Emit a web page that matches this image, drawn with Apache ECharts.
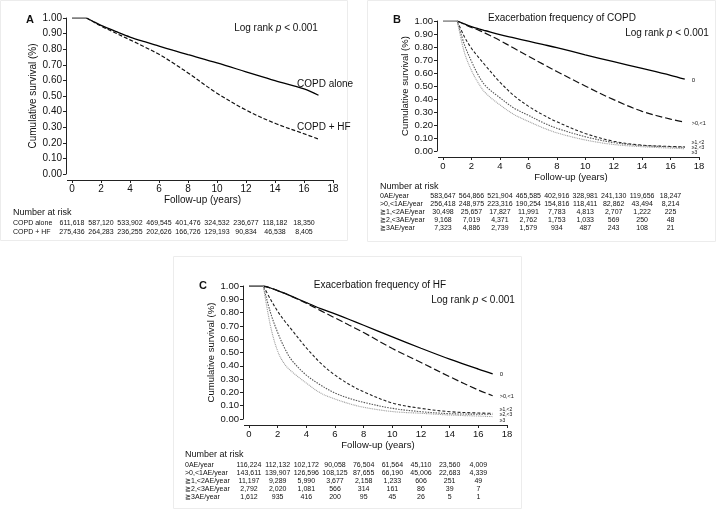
<!DOCTYPE html>
<html><head><meta charset="utf-8">
<script src="https://cdn.jsdelivr.net/npm/echarts@6/dist/echarts.min.js"></script>
<style>html,body{margin:0;padding:0;background:#fff}#c{width:726px;height:523px}</style>
</head><body><div id="c"></div>
<script>
// ---------- data ----------
// survival is 1.00 from 0 to 1 year, then each curve is read at these times
const flatTimes = [0, 1];
const flatVals = [1, 1];
const times = [1, 1.5, 2, 2.5, 3, 4, 5, 6, 7, 8, 10, 12, 14, 16, 17];
const xTicks = [0, 2, 4, 6, 8, 10, 12, 14, 16];

// Panel A
const aNames = ['COPD alone', 'COPD + HF'];
const aAlone = [1, 0.976, 0.953, 0.933, 0.914, 0.878, 0.848, 0.82, 0.792, 0.765, 0.712, 0.655, 0.598, 0.545, 0.505];
const aHF    = [1, 0.974, 0.948, 0.926, 0.904, 0.86, 0.815, 0.767, 0.71, 0.648, 0.518, 0.41, 0.325, 0.258, 0.224];
const aRiskAlone = ['611,618','587,120','533,902','469,545','401,476','324,532','236,677','118,182','18,350'];
const aRiskHF    = ['275,436','264,283','236,255','202,626','166,726','129,193','90,834','46,538','8,405'];

// Panel B
const bLabels = ['0', '>0,<1', '≥1,<2', '≥2,<3', '≥3'];
const b0 = [1, 0.978, 0.957, 0.94, 0.925, 0.895, 0.87, 0.845, 0.82, 0.795, 0.74, 0.687, 0.635, 0.582, 0.552];
const b1 = [1, 0.975, 0.95, 0.93, 0.905, 0.85, 0.79, 0.73, 0.67, 0.612, 0.5, 0.395, 0.305, 0.245, 0.222];
const b2 = [1, 0.88, 0.79, 0.72, 0.655, 0.53, 0.425, 0.345, 0.28, 0.225, 0.135, 0.075, 0.045, 0.035, 0.032];
const b3 = [1, 0.82, 0.69, 0.58, 0.5, 0.41, 0.33, 0.275, 0.22, 0.175, 0.11, 0.065, 0.042, 0.032, 0.028];
const b4 = [1, 0.76, 0.62, 0.52, 0.445, 0.355, 0.28, 0.228, 0.18, 0.14, 0.085, 0.05, 0.033, 0.022, 0.018];
const bRowNames = ['0AE/year', '>0,<1AE/year', '≧1,<2AE/year', '≧2,<3AE/year', '≧3AE/year'];
const bRisk0 = ['583,647','564,866','521,904','465,585','402,916','328,981','241,130','119,656','18,247'];
const bRisk1 = ['256,418','248,975','223,316','190,254','154,816','118,411','82,862','43,494','8,214'];
const bRisk2 = ['30,498','25,657','17,827','11,991','7,783','4,813','2,707','1,222','225'];
const bRisk3 = ['9,168','7,019','4,371','2,762','1,753','1,033','569','250','48'];
const bRisk4 = ['7,323','4,886','2,739','1,579','934','487','243','108','21'];

// Panel C
const c0 = [1, 0.985, 0.965, 0.945, 0.922, 0.875, 0.83, 0.79, 0.748, 0.705, 0.618, 0.532, 0.45, 0.375, 0.34];
const c1 = [1, 0.985, 0.965, 0.945, 0.92, 0.87, 0.815, 0.76, 0.705, 0.65, 0.53, 0.425, 0.318, 0.218, 0.175];
const c2 = [1, 0.9, 0.81, 0.735, 0.668, 0.535, 0.42, 0.33, 0.26, 0.205, 0.12, 0.08, 0.055, 0.045, 0.043];
const c3 = [1, 0.8, 0.65, 0.53, 0.44, 0.33, 0.255, 0.195, 0.155, 0.125, 0.08, 0.055, 0.04, 0.036, 0.035];
const c4 = [1, 0.7, 0.51, 0.41, 0.355, 0.27, 0.195, 0.15, 0.115, 0.088, 0.056, 0.043, 0.03, 0.022, 0.018];
const cRisk0 = ['116,224','112,132','102,172','90,058','76,504','61,564','45,110','23,560','4,009'];
const cRisk1 = ['143,611','139,907','126,596','108,125','87,655','66,190','45,006','22,683','4,339'];
const cRisk2 = ['11,197','9,289','5,990','3,677','2,158','1,233','606','251','49'];
const cRisk3 = ['2,792','2,020','1,081','566','314','161','86','39','7'];
const cRisk4 = ['1,612','935','416','200','95','45','26','5','1'];

// ---------- chart ----------
const FONT = '"Liberation Sans", Arial, Helvetica, sans-serif';
const chart = echarts.init(document.getElementById('c'), null, {renderer: 'canvas'});

const grids = [
  {left: 72, top: 18, width: 261, height: 156},
  {left: 443, top: 21, width: 256, height: 130},
  {left: 249, top: 286, width: 258, height: 133}
];

function xAx(g, fs, gap) {
  return {gridIndex: g, type: 'value', min: 0, max: 18, interval: 2, offset: 6,
    axisLine: {show: true, onZero: false, lineStyle: {color: '#222', width: 1}},
    axisTick: {show: true, length: 3, lineStyle: {color: '#222'}},
    axisLabel: {color: '#111', fontSize: fs, fontFamily: FONT, margin: 4},
    splitLine: {show: false},
    name: 'Follow-up (years)', nameLocation: 'middle', nameGap: gap,
    nameTextStyle: {color: '#111', fontSize: fs, fontFamily: FONT}};
}
function yAx(g, fs, gap) {
  return {gridIndex: g, type: 'value', min: 0, max: 1, interval: 0.1, offset: 6,
    axisLine: {show: true, onZero: false, lineStyle: {color: '#222', width: 1}},
    axisTick: {show: true, length: 3, lineStyle: {color: '#222'}},
    axisLabel: {color: '#111', fontSize: fs, fontFamily: FONT, margin: 4, formatter: v => v.toFixed(2)},
    splitLine: {show: false},
    name: 'Cumulative survival (%)', nameLocation: 'middle', nameGap: gap,
    nameTextStyle: {color: '#111', fontSize: fs, fontFamily: FONT}};
}
function ser(g, tt, vals, color, width, type, smooth) {
  return {type: 'line', xAxisIndex: g, yAxisIndex: g, data: tt.map((t, i) => [t, vals[i]]),
    showSymbol: false, symbol: 'none', smooth: smooth,
    lineStyle: {color: color, width: width, type: type}, silent: true, animation: false};
}

const styles = [
  ['#000', 1.3, 'solid'],
  ['#111', 1.2, [7, 3]],
  ['#222', 1.1, [3, 2]],
  ['#555', 1.1, [1.5, 1.2]],
  ['#a0a0a0', 1.1, [1, 0.8]]
];
const SM = 0.35;

chart.setOption({
  animation: false,
  grid: grids,
  xAxis: [xAx(0, 10, 13), xAx(1, 9.5, 11), xAx(2, 9.5, 12)],
  yAxis: [yAx(0, 10, 27), yAx(1, 9.5, 25), yAx(2, 9.5, 27)],
  series: [
    ser(0, flatTimes, flatVals, '#555', 1.4, 'solid', false),
    ser(0, times, aAlone, '#000', 1.3, 'solid', SM),
    ser(0, times, aHF, '#111', 1.2, [4, 2], SM),
    ser(1, flatTimes, flatVals, '#777', 1.6, 'solid', false),
    ser(1, times, b0, ...styles[0], SM), ser(1, times, b1, ...styles[1], SM), ser(1, times, b2, ...styles[2], SM),
    ser(1, times, b3, ...styles[3], SM), ser(1, times, b4, ...styles[4], SM),
    ser(2, flatTimes, flatVals, '#333', 1.4, 'solid', false),
    ser(2, times, c0, ...styles[0], SM), ser(2, times, c1, ...styles[1], SM), ser(2, times, c2, ...styles[2], SM),
    ser(2, times, c3, ...styles[3], SM), ser(2, times, c4, ...styles[4], SM)
  ]
});

// ---------- annotations ----------
const gfx = [];
function txt(x, y, text, opt) {
  opt = opt || {};
  gfx.push({type: 'text', x: x, y: y, silent: true, style: Object.assign({
    text: text, fill: '#111', fontSize: 10, fontFamily: FONT, textAlign: 'left', textVerticalAlign: 'middle'
  }, opt)});
}
function px(g, x, y) { return chart.convertToPixel({gridIndex: g}, [x, y]); }

// frames
gfx.push({type: 'rect', shape: {x: 0.5, y: 0.5, width: 347, height: 240}, style: {fill: 'none', stroke: '#ececec', lineWidth: 1}, silent: true});
gfx.push({type: 'rect', shape: {x: 367.5, y: 0.5, width: 348, height: 241}, style: {fill: 'none', stroke: '#ececec', lineWidth: 1}, silent: true});
gfx.push({type: 'rect', shape: {x: 173.5, y: 256.5, width: 348, height: 252}, style: {fill: 'none', stroke: '#ececec', lineWidth: 1}, silent: true});

// x-axis line extension toward the y axis (offset-axis style)
[0, 1, 2].forEach(g => {
  const p0 = px(g, 0, 0);
  const yy = Math.round(p0[1] + 6) + 0.5;
  gfx.push({type: 'line', silent: true, shape: {x1: p0[0] - 5, y1: yy, x2: p0[0], y2: yy},
    style: {stroke: '#222', lineWidth: 1}});
});

// panel letters
txt(26, 20, 'A', {fontSize: 11, fontWeight: 'bold'});
txt(393, 20, 'B', {fontSize: 11, fontWeight: 'bold'});
txt(199, 286, 'C', {fontSize: 11, fontWeight: 'bold'});

// titles & log rank
function logRankTxt(cx, cy, fs) {
  gfx.push({type: 'text', x: cx, y: cy, silent: true, style: {
    text: 'Log rank {i|p} < 0.001', rich: {i: {fontStyle: 'italic', fontSize: fs, fontFamily: FONT, fill: '#111'}},
    fill: '#111', fontSize: fs, fontFamily: FONT, textAlign: 'center', textVerticalAlign: 'middle'}});
}
logRankTxt(276, 28, 10);
logRankTxt(667, 33, 10);
logRankTxt(473, 300, 10);
txt(562, 18, 'Exacerbation frequency of COPD', {textAlign: 'center'});
txt(380, 285, 'Exacerbation frequency of HF', {textAlign: 'center'});

// end labels A
txt(297, 84, aNames[0]);
txt(297, 127, aNames[1]);

// end labels B
let p = px(1, 17, b0[b0.length - 1]);
txt(p[0] + 7, p[1] + 1, bLabels[0], {fontSize: 6});
p = px(1, 17, b1[b1.length - 1]);
txt(p[0] + 7, p[1] + 1, bLabels[1], {fontSize: 5.5});
p = px(1, 17, 0);
txt(p[0] + 7, p[1] - 8, bLabels[2], {fontSize: 5});
txt(p[0] + 7, p[1] - 3, bLabels[3], {fontSize: 5});
txt(p[0] + 7, p[1] + 2, bLabels[4], {fontSize: 5});

// end labels C
p = px(2, 17, c0[c0.length - 1]);
txt(p[0] + 7, p[1] + 1, bLabels[0], {fontSize: 6});
p = px(2, 17, c1[c1.length - 1]);
txt(p[0] + 7, p[1] + 1, bLabels[1], {fontSize: 5.5});
p = px(2, 17, 0);
txt(p[0] + 7, p[1] - 9, bLabels[2], {fontSize: 5});
txt(p[0] + 7, p[1] - 4, bLabels[3], {fontSize: 5});
txt(p[0] + 7, p[1] + 2, bLabels[4], {fontSize: 5});

// risk tables
function riskTable(g, labelX, headY, rowY0, rowStep, rowNames, rows) {
  txt(labelX, headY, 'Number at risk', {fontSize: 9});
  rows.forEach((r, ri) => {
    const y = rowY0 + ri * rowStep;
    txt(labelX, y, rowNames[ri], {fontSize: 7});
    r.forEach((v, ci) => {
      const x = px(g, xTicks[ci], 0)[0];
      txt(x, y, v, {fontSize: 7, textAlign: 'center'});
    });
  });
}
riskTable(0, 13, 213, 223, 9, aNames, [aRiskAlone, aRiskHF]);
riskTable(1, 380, 187, 196, 8, bRowNames, [bRisk0, bRisk1, bRisk2, bRisk3, bRisk4]);
riskTable(2, 185, 455, 465, 8, bRowNames, [cRisk0, cRisk1, cRisk2, cRisk3, cRisk4]);

chart.setOption({graphic: {elements: gfx}});
</script>
</body></html>
